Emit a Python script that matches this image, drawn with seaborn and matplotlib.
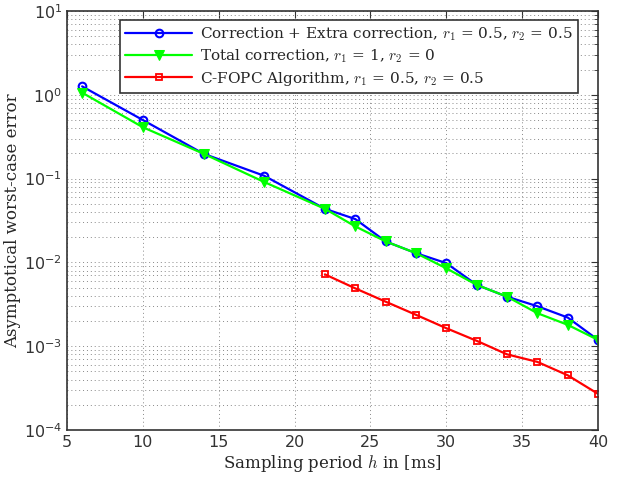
import matplotlib
matplotlib.use('Agg')
import matplotlib.pyplot as plt
import seaborn as sns
import pandas as pd
from matplotlib.ticker import LogLocator, NullFormatter

h_main = [6, 10, 14, 18, 22, 24, 26, 28, 30, 32, 34, 36, 38, 40]
err_extra = [1.26, 0.50, 0.198, 0.108, 0.0436, 0.0329, 0.0178, 0.0129, 0.0098,
             0.0054, 0.0039, 0.0030, 0.0022, 0.00119]
err_total = [1.06, 0.41, 0.198, 0.091, 0.0436, 0.0269, 0.0178, 0.0129, 0.0085,
             0.0054, 0.0039, 0.00248, 0.0018, 0.00119]
h_fopc = [22, 24, 26, 28, 30, 32, 34, 36, 38, 40]
err_fopc = [0.0072, 0.0049, 0.0034, 0.00237, 0.00164, 0.00116, 0.00080,
            0.00065, 0.00045, 0.00027]

labels = [r'Correction + Extra correction, $r_1$ = 0.5, $r_2$ = 0.5',
          r'Total correction, $r_1$ = 1, $r_2$ = 0',
          r'C-FOPC Algorithm, $r_1$ = 0.5, $r_2$ = 0.5']

sns.set_style('white')
plt.rcParams['font.family'] = ['DejaVu Serif']
plt.rcParams['mathtext.fontset'] = 'cm'

fig = plt.figure(figsize=(6.25, 4.78), dpi=100)
ax = fig.add_axes([67/625, 48/478, (598-67)/625, (430-11)/478])

sns.lineplot(x=h_main, y=err_extra, ax=ax, color='#0000ff', lw=1.6, marker='o',
             markersize=5.5, markerfacecolor='none', markeredgecolor='#0000ff',
             markeredgewidth=1.5, label=labels[0])
sns.lineplot(x=h_main, y=err_total, ax=ax, color='#00ff00', lw=1.6, marker='v',
             markersize=6.5, markerfacecolor='#00ff00', markeredgecolor='#00ff00',
             label=labels[1])
sns.lineplot(x=h_fopc, y=err_fopc, ax=ax, color='#ff0000', lw=1.6, marker='s',
             markersize=5, markerfacecolor='none', markeredgecolor='#ff0000',
             markeredgewidth=1.3, label=labels[2])

ax.set_yscale('log')
ax.set_xlim(5, 40)
ax.set_ylim(1e-4, 10)
ax.set_xticks(range(5, 41, 5))
ax.yaxis.set_major_locator(LogLocator(base=10, numticks=10))
ax.yaxis.set_minor_locator(LogLocator(base=10, subs=range(2, 10), numticks=20))
ax.yaxis.set_minor_formatter(NullFormatter())

ax.grid(True, which='major', axis='both', color='#888888', ls=(0, (1, 3)), lw=0.7)
ax.grid(True, which='minor', axis='y', color='#888888', ls=(0, (1, 3)), lw=0.7)

ax.tick_params(which='both', direction='in', top=True, right=True,
               labelsize=11.5, color='#333333')
ax.tick_params(which='major', length=5)
ax.tick_params(which='minor', length=3)
for lab in ax.get_xticklabels() + ax.get_yticklabels():
    lab.set_family('DejaVu Sans')
    lab.set_color('#333333')
for s in ax.spines.values():
    s.set_color('#333333')
    s.set_linewidth(1.2)

ax.set_xlabel(r'Sampling period $h$ in [ms]', fontsize=12, labelpad=2)
ax.set_ylabel('Asymptotical worst-case error', fontsize=12, labelpad=2)

leg = ax.legend(loc='upper right', bbox_to_anchor=(0.962, 0.9785),
                fontsize=11, frameon=True, fancybox=False,
                framealpha=1, edgecolor='#333333', borderpad=0.35,
                handlelength=4.4, labelspacing=0.3, borderaxespad=0,
                handletextpad=0.5)
leg.get_frame().set_linewidth(1.2)

fig.savefig('out.png', dpi=100)
